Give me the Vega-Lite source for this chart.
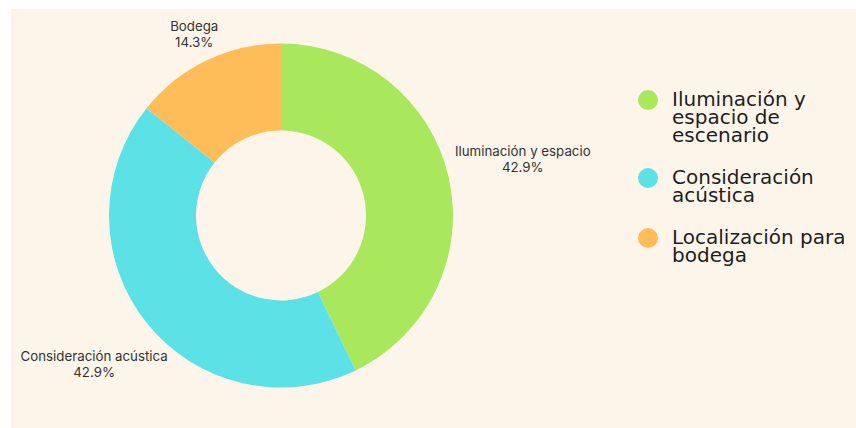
{
  "$schema": "https://vega.github.io/schema/vega-lite/v6.json",
  "background": "#fdf5ea",
  "padding": 0,
  "spacing": 0,
  "bounds": "flush",
  "config": {
    "view": {"stroke": null},
    "concat": {"spacing": 0},
    "style": {"guide-label": {"lineHeight": 18}}
  },
  "datasets": {
    "slices": [
      {"k": 1, "cat": "Iluminación y espacio de escenario", "label": "Iluminación y espacio", "value": 42.9},
      {"k": 2, "cat": "Consideración acústica", "label": "Consideración acústica", "value": 42.9},
      {"k": 3, "cat": "Localización para bodega", "label": "Bodega", "value": 14.3}
    ]
  },
  "vconcat": [
    {
      "data": {"values": []},
      "width": 856,
      "height": 9,
      "view": {"fill": "white", "stroke": null},
      "mark": {"type": "point", "opacity": 0}
    },
    {
      "spacing": 0,
      "bounds": "flush",
      "hconcat": [
        {
          "data": {"values": []},
          "width": 11,
          "height": 419,
          "view": {"fill": "white", "stroke": null},
          "mark": {"type": "point", "opacity": 0}
        },
        {
          "data": {"name": "slices"},
          "width": 540,
          "height": 413,
          "view": {"fill": null, "stroke": null},
          "transform": [
            {"stack": "value", "groupby": [], "sort": [{"field": "k", "order": "ascending"}], "as": ["v0", "v1"]},
            {"calculate": "(datum.v0 + datum.v1) / 2", "as": "vmid"},
            {"calculate": "datum.label + '\\n' + format(datum.value, '.1f') + '%'", "as": "lbl"}
          ],
          "layer": [
            {
              "mark": {"type": "arc", "outerRadius": 172, "innerRadius": 85},
              "encoding": {
                "theta": {"field": "v0", "type": "quantitative", "stack": null, "scale": {"domain": [0, 100.1], "zero": true, "nice": false}},
                "theta2": {"field": "v1"},
                "color": {
                  "field": "cat",
                  "type": "nominal",
                  "scale": {
                    "domain": ["Iluminación y espacio de escenario", "Consideración acústica", "Localización para bodega"],
                    "range": ["#a9e85d", "#5ce1e6", "#ffbd59"]
                  },
                  "legend": {
                    "orient": "none",
                    "legendX": 638,
                    "legendY": 90,
                    "title": null,
                    "padding": 0,
                    "symbolSize": 400,
                    "symbolStrokeWidth": 0,
                    "symbolOpacity": 1,
                    "labelFont": "DejaVu Sans",
                    "labelFontSize": 20,
                    "labelColor": "#1e1e1e",
                    "labelOffset": 14,
                    "rowPadding": 22,
                    "labelLimit": 400,
                    "labelExpr": "datum.label == 'Iluminación y espacio de escenario' ? ['Iluminación y', 'espacio de', 'escenario'] : datum.label == 'Consideración acústica' ? ['Consideración', 'acústica'] : ['Localización para', 'bodega']"
                  }
                },
                "shape": {
                  "field": "cat",
                  "type": "nominal",
                  "scale": {
                    "domain": ["Iluminación y espacio de escenario", "Consideración acústica", "Localización para bodega"],
                    "range": [
                      "M0 0.8 C0.5523 0.8 1 1.2477 1 1.8 C1 2.3523 0.5523 2.8 0 2.8 C-0.5523 2.8 -1 2.3523 -1 1.8 C-1 1.2477 -0.5523 0.8 0 0.8 Z",
                      "M0 -0.1 C0.5523 -0.1 1 0.3477 1 0.9 C1 1.4523 0.5523 1.9 0 1.9 C-0.5523 1.9 -1 1.4523 -1 0.9 C-1 0.3477 -0.5523 -0.1 0 -0.1 Z",
                      "M0 -0.1 C0.5523 -0.1 1 0.3477 1 0.9 C1 1.4523 0.5523 1.9 0 1.9 C-0.5523 1.9 -1 1.4523 -1 0.9 C-1 0.3477 -0.5523 -0.1 0 -0.1 Z"
                    ]
                  },
                  "legend": {
                    "orient": "none",
                    "legendX": 638,
                    "legendY": 90,
                    "title": null,
                    "padding": 0,
                    "symbolSize": 400,
                    "symbolStrokeWidth": 0,
                    "symbolOpacity": 1,
                    "labelFont": "DejaVu Sans",
                    "labelFontSize": 20,
                    "labelColor": "#1e1e1e",
                    "labelOffset": 14,
                    "rowPadding": 22,
                    "labelLimit": 400,
                    "labelExpr": "datum.label == 'Iluminación y espacio de escenario' ? ['Iluminación y', 'espacio de', 'escenario'] : datum.label == 'Consideración acústica' ? ['Consideración', 'acústica'] : ['Localización para', 'bodega']"
                  }
                }
              }
            },
            {
              "transform": [{"filter": "datum.k == 1"}],
              "mark": {"type": "text", "radius": 248, "font": "Inter", "fontSize": 13.3, "lineBreak": "\n", "lineHeight": 16, "dy": -8, "align": "center", "baseline": "middle", "color": "#333333"},
              "encoding": {
                "theta": {"field": "vmid", "type": "quantitative", "stack": null, "scale": {"domain": [0, 100.1], "zero": true, "nice": false}},
                "text": {"field": "lbl"}
              }
            },
            {
              "transform": [{"filter": "datum.k == 2"}],
              "mark": {"type": "text", "radius": 239, "font": "Inter", "fontSize": 13.3, "lineBreak": "\n", "lineHeight": 16, "dy": -8, "align": "center", "baseline": "middle", "color": "#333333"},
              "encoding": {
                "theta": {"field": "vmid", "type": "quantitative", "stack": null, "scale": {"domain": [0, 100.1], "zero": true, "nice": false}},
                "text": {"field": "lbl"}
              }
            },
            {
              "transform": [{"filter": "datum.k == 3"}],
              "mark": {"type": "text", "radius": 200, "font": "Inter", "fontSize": 13.3, "lineBreak": "\n", "lineHeight": 16, "dy": -8, "align": "center", "baseline": "middle", "color": "#333333"},
              "encoding": {
                "theta": {"field": "vmid", "type": "quantitative", "stack": null, "scale": {"domain": [0, 100.1], "zero": true, "nice": false}},
                "text": {"field": "lbl"}
              }
            }
          ]
        }
      ]
    }
  ]
}
